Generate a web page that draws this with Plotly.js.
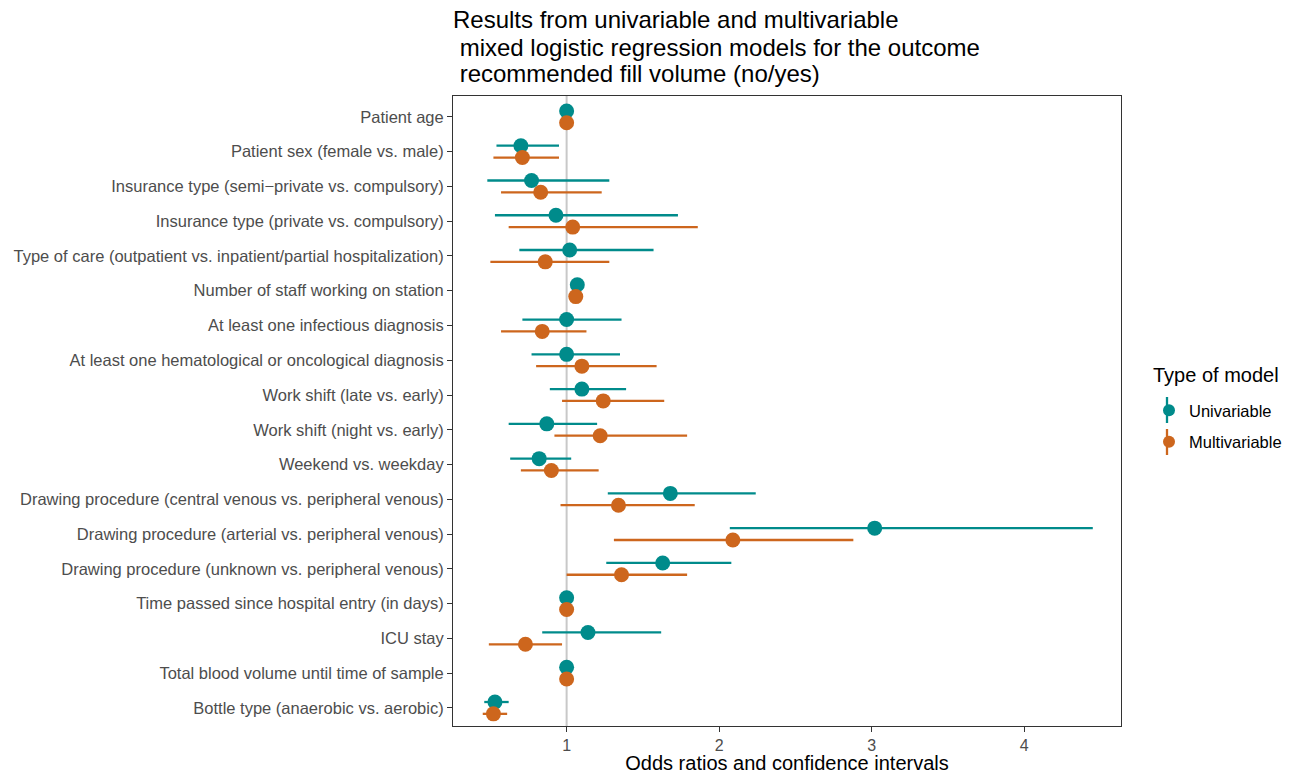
<!DOCTYPE html>
<html>
<head>
<meta charset="utf-8">
<script src="https://cdn.plot.ly/plotly-3.0.1.min.js"></script>
<style>html,body{margin:0;padding:0;background:#fff;}#chart{width:1302px;height:774px;}</style>
</head>
<body>
<div id="chart"></div>
<script>
var categories = [
  "Patient age",
  "Patient sex (female vs. male)",
  "Insurance type (semi\u2212private vs. compulsory)",
  "Insurance type (private vs. compulsory)",
  "Type of care (outpatient vs. inpatient/partial hospitalization)",
  "Number of staff working on station",
  "At least one infectious diagnosis",
  "At least one hematological or oncological diagnosis",
  "Work shift (late vs. early)",
  "Work shift (night vs. early)",
  "Weekend vs. weekday",
  "Drawing procedure (central venous vs. peripheral venous)",
  "Drawing procedure (arterial vs. peripheral venous)",
  "Drawing procedure (unknown vs. peripheral venous)",
  "Time passed since hospital entry (in days)",
  "ICU stay",
  "Total blood volume until time of sample",
  "Bottle type (anaerobic vs. aerobic)"
];
var uniOR    = [1.00, 0.70, 0.77, 0.93, 1.02, 1.07, 1.00, 1.00, 1.10, 0.87, 0.82, 1.68, 3.02, 1.63, 1.00, 1.14, 1.00, 0.53];
var uniLow   = [0.99, 0.54, 0.48, 0.53, 0.69, 1.05, 0.71, 0.77, 0.89, 0.62, 0.63, 1.27, 2.07, 1.26, 0.995, 0.84, 0.995, 0.46];
var uniHigh  = [1.01, 0.95, 1.28, 1.73, 1.57, 1.09, 1.36, 1.35, 1.39, 1.20, 1.03, 2.24, 4.45, 2.08, 1.005, 1.62, 1.005, 0.62];
var multiOR  = [1.00, 0.71, 0.83, 1.04, 0.86, 1.06, 0.84, 1.10, 1.24, 1.22, 0.90, 1.34, 2.09, 1.36, 1.00, 0.73, 1.00, 0.52];
var multiLow = [0.99, 0.52, 0.57, 0.62, 0.50, 1.04, 0.57, 0.80, 0.97, 0.92, 0.70, 0.96, 1.31, 1.00, 0.995, 0.49, 0.995, 0.45];
var multiHigh= [1.01, 0.95, 1.23, 1.86, 1.28, 1.08, 1.13, 1.59, 1.64, 1.79, 1.21, 1.84, 2.88, 1.79, 1.005, 0.97, 1.005, 0.61];
var xTicks = [1, 2, 3, 4];
var seriesNames = ["Univariable", "Multivariable"];
var seriesColors = ['#008B8B', '#CD661D'];
var legendTitle = "Type of model";
var titleLines = [
  "Results from univariable and multivariable",
  " mixed logistic regression models for the outcome",
  " recommended fill volume (no/yes)"
];

var n = categories.length;
var pos = categories.map(function(c, i){ return n - 1 - i; });
var dodge = 0.17;

function makeTrace(name, est, lo, hi, color, offset, grp){
  return {
    type: 'scatter', mode: 'markers', name: name, legendgroup: grp,
    x: est,
    y: pos.map(function(p){ return p + offset; }),
    marker: {color: color, size: 15, line: {width: 0}},
    error_x: {
      type: 'data', symmetric: false,
      array: est.map(function(v, i){ return hi[i] - v; }),
      arrayminus: est.map(function(v, i){ return v - lo[i]; }),
      color: color, thickness: 2.3, width: 0
    },
    hoverinfo: 'x+name'
  };
}

var traces = [
  makeTrace(seriesNames[0], uniOR, uniLow, uniHigh, seriesColors[0], dodge, 'a'),
  makeTrace(seriesNames[1], multiOR, multiLow, multiHigh, seriesColors[1], -dodge, 'b')
];

// plot area: left 453, width 668, top 96, height 630
function px2x(p){ return (p - 453) / 668; }
function px2y(p){ return (726 - p) / 630; }

var annotations = titleLines.map(function(t, i){
  var cy = 20 + i * 27;
  return {
    text: t.replace(/^ /, '\u00a0'), xref: 'paper', yref: 'paper',
    x: 0, xanchor: 'left', xshift: -2,
    y: px2y(cy), yanchor: 'middle',
    showarrow: false, font: {size: 24, color: '#000'}
  };
});
annotations.push({
  text: legendTitle, xref: 'paper', yref: 'paper',
  x: px2x(1151), xanchor: 'left', y: px2y(375), yanchor: 'middle',
  showarrow: false, font: {size: 20, color: '#000'}
});

// vertical key glyph lines through legend markers
var shapes = [{
  type: 'line', xref: 'x', yref: 'paper', x0: 1, x1: 1, y0: 0, y1: 1,
  line: {color: '#c8c8c8', width: 2}, layer: 'below'
}];
[410, 442].forEach(function(cy, i){
  shapes.push({
    type: 'line', xref: 'paper', yref: 'paper',
    x0: px2x(1167), x1: px2x(1167), y0: px2y(cy - 13), y1: px2y(cy + 13),
    line: {color: seriesColors[i], width: 2.3}
  });
});

var layout = {
  width: 1302, height: 774,
  paper_bgcolor: '#ffffff', plot_bgcolor: '#ffffff',
  font: {family: '"Liberation Sans", Arial, sans-serif', color: '#000'},
  margin: {l: 453, r: 181, t: 96, b: 48, pad: 0},
  annotations: annotations,
  shapes: shapes,
  xaxis: {
    range: [0.255, 4.635],
    tickvals: xTicks, ticktext: xTicks.map(String),
    ticks: 'outside', ticklen: 5, tickcolor: '#333', tickwidth: 1,
    tickfont: {size: 16, color: '#4d4d4d'},
    showgrid: false, zeroline: false,
    showline: true, linecolor: '#333', linewidth: 1, mirror: true,
    title: {text: 'Odds ratios and confidence intervals', font: {size: 20, color: '#000'}, standoff: 2}
  },
  yaxis: {
    range: [-0.52, n - 1 + 0.6],
    tickvals: pos, ticktext: categories,
    ticks: 'outside', ticklen: 5, tickcolor: '#333', tickwidth: 1,
    tickfont: {size: 16.5, color: '#4d4d4d'},
    showgrid: false, zeroline: false,
    showline: true, linecolor: '#333', linewidth: 1, mirror: true
  },
  showlegend: true,
  legend: {
    font: {size: 16.5, color: '#000'},
    x: px2x(1149), xanchor: 'left', y: px2y(393), yanchor: 'top',
    bgcolor: 'rgba(0,0,0,0)', itemsizing: 'constant', tracegroupgap: 7
  }
};

Plotly.newPlot('chart', traces, layout, {displayModeBar: false, staticPlot: true});
</script>
</body>
</html>
